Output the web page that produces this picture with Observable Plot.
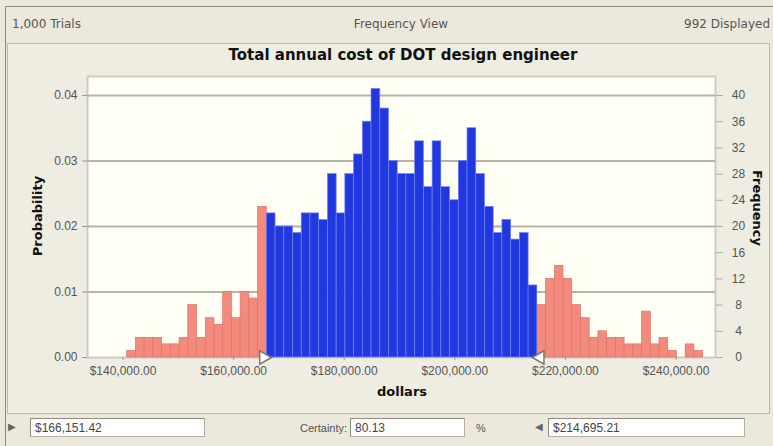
<!DOCTYPE html>
<html><head><meta charset="utf-8">
<script src="https://cdn.jsdelivr.net/npm/d3@7"></script>
<script src="https://cdn.jsdelivr.net/npm/@observablehq/plot@0.6"></script>
<style>
body{margin:0;background:#ece9dc;}
#wrap{position:relative;width:773px;height:446px;overflow:hidden;background:#ece9dc;font-family:"DejaVu Sans",sans-serif;}
.abs{position:absolute;white-space:nowrap;line-height:1;}
.hdr{font-size:12px;color:#555;}
.lbl{font-weight:bold;font-size:13px;color:#111;}
.box{position:absolute;height:19px;background:#fff;border:1px solid #b5b1a4;border-top-color:#8e8a7e;border-left-color:#8e8a7e;box-sizing:border-box;font-family:"Liberation Sans",Arial,sans-serif;font-size:12px;color:#444;padding:3px 0 0 4px;line-height:1;}
.bt{font-family:"Liberation Sans",Arial,sans-serif;font-size:11px;color:#555;}
#chart{position:absolute;left:0;top:66px;}
</style></head><body><div id="wrap">
<div class="abs" style="left:5px;top:6px;width:768px;height:440px;border-top:1px solid #8a887e;border-left:1px solid #8a887e;"></div>
<div class="abs" style="left:7px;top:43px;width:761px;height:369px;border:1px solid #bdb9ac;background:#efece2;"></div>
<div class="abs hdr" id="hTrials" style="left:12px;top:18px"></div>
<div class="abs hdr" id="hView" style="left:401px;top:18px;transform:translateX(-50%)"></div>
<div class="abs hdr" id="hDisp" style="right:3px;top:18px"></div>
<div class="abs" id="title" style="left:403px;top:48px;transform:translateX(-50%);font-weight:bold;font-size:15px;color:#111"></div>
<div id="chart"></div>
<div class="abs lbl" id="ylab" style="left:37px;top:216px;transform:translate(-50%,-50%) rotate(-90deg)"></div>
<div class="abs lbl" id="y2lab" style="left:757px;top:208px;transform:translate(-50%,-50%) rotate(90deg)"></div>
<div class="abs lbl" id="xlab" style="left:402px;top:385px;transform:translateX(-50%)"></div>
<div class="abs bt" style="left:8px;top:422px;font-size:10px;color:#666">&#9654;</div>
<div class="box" id="lowBox" style="left:30px;top:418px;width:175px"></div>
<div class="abs bt" id="certLab" style="left:300px;top:423px"></div>
<div class="box" id="certBox" style="left:350px;top:418px;width:115px"></div>
<div class="abs bt" style="left:476px;top:423px">%</div>
<div class="abs bt" style="left:535px;top:422px;font-size:10px;color:#666">&#9664;</div>
<div class="box" id="highBox" style="left:548px;top:418px;width:197px"></div>
</div>
<script>
// ---- data ----
const trials = 1000;
const counts = [1,3,3,3,2,2,3,8,3,6,5,10,6,10,9,23,
  22,20,20,19,22,22,21,28,22,28,31,36,41,38,30,28,28,33,26,33,26,24,30,35,28,23,19,21,18,19,11,
  8,12,14,12,8,6,3,4,3,3,2,2,7,2,3,1,0,2,1];
const binStart = 140760;      // dollars, left edge of first bin
const binWidth = 1578;        // dollars per bin
const lowerCert = 166151.42;
const upperCert = 214695.21;
const certainty = 80.13;
const probTicks = [0, 0.01, 0.02, 0.03, 0.04];
const freqTicks = [0,4,8,12,16,20,24,28,32,36,40];
const dollarTicks = [140000,160000,180000,200000,220000,240000];
const titleText = "Total annual cost of DOT design engineer";
const headerLeft = "1,000 Trials", headerMid = "Frequency View";
const xLabel = "dollars", yLabel = "Probability", y2Label = "Frequency";

const displayed = d3.sum(counts);
const bins = counts.map((c, i) => {
  const x1 = binStart + i * binWidth, x2 = x1 + binWidth;
  const mid = (x1 + x2) / 2;
  return {x1, x2, p: c / trials, inside: mid >= lowerCert && mid <= upperCert};
});
const money = d => "$" + d3.format(",.2f")(d);

document.getElementById("hTrials").textContent = headerLeft;
document.getElementById("hView").textContent = headerMid;
document.getElementById("hDisp").textContent = displayed + " Displayed";
document.getElementById("title").textContent = titleText;
document.getElementById("xlab").textContent = xLabel;
document.getElementById("ylab").textContent = yLabel;
document.getElementById("y2lab").textContent = y2Label;
document.getElementById("lowBox").textContent = money(lowerCert);
document.getElementById("highBox").textContent = money(upperCert);
document.getElementById("certLab").textContent = "Certainty:";
document.getElementById("certBox").textContent = d3.format(".2f")(certainty);

const blue = "#2137e0", pink = "#f38a7c";
const chart = Plot.plot({
  width: 773, height: 344,
  marginLeft: 87, marginRight: 58, marginTop: 10, marginBottom: 53,
  x: {domain: [133580, 247143]},
  y: {domain: [0, 0.0429]},
  style: {background: "transparent", fontFamily: "Liberation Sans, Arial, sans-serif", fontSize: "12px", color: "#555"},
  marks: [
    Plot.frame({fill: "#fffff6", stroke: "#cfcbbf", strokeWidth: 2}),
    Plot.gridY(probTicks.slice(1), {stroke: "#b6b3a9", strokeWidth: 2, strokeOpacity: 1}),
    Plot.rectY(bins, {filter: d => !d.inside, x1: "x1", x2: "x2", y: "p", fill: pink, stroke: "#d9766a", strokeWidth: 0.7}),
    Plot.rectY(bins, {filter: d => d.inside, x1: "x1", x2: "x2", y: "p", fill: blue, stroke: "#6f82f2", strokeWidth: 0.7}),
    Plot.dot([lowerCert], {x: d => d, y: 0, symbol: "triangle", rotate: 90, r: 5, fill: "#fff", stroke: "#777", dx: -4}),
    Plot.dot([upperCert], {x: d => d, y: 0, symbol: "triangle", rotate: -90, r: 5, fill: "#fff", stroke: "#777", dx: 4}),
    Plot.axisY(probTicks, {anchor: "left", tickFormat: d3.format(".2f"), tickSize: 5, tickPadding: 5, stroke: "#999", label: null}),
    Plot.axisY(freqTicks.map(f => f / trials), {anchor: "right", tickFormat: d => Math.round(d * trials), tickSize: 7, tickPadding: 16, textAnchor: "middle", stroke: "#aaa", label: null}),
    Plot.axisX(dollarTicks, {tickFormat: money, tickSize: 3, tickPadding: 6, stroke: "#999", label: null})
  ]
});
document.getElementById("chart").appendChild(chart);
</script>
</body></html>
